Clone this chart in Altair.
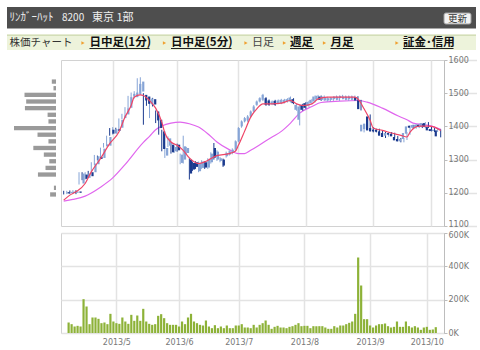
import altair as alt
import pandas as pd

# ---------------- data ----------------
opens = [1202,1199,1203,1200,1204,1228,1255,1245,1262,1262,1286,1308,1305,1340,1342,1390,1378,1392,1396,1425,
         1436,1456,1490,1488,1496,1505,1495,1490,1466,1482,1445,1420,1385,1312,1342,1345,1325,1345,1290,1300,
         1320,1300,1290,1292,1265,1275,1292,1276,1292,1335,1300,1296,1300,1310,1315,1320,1330,1355,1400,1415,
         1418,1430,1445,1465,1475,1480,1485,1478,1467,1477,1470,1470,1472,1475,1475,1482,1450,1420,1465,1470,
         1462,1470,1475,1482,1490,1480,1478,1478,1480,1482,1480,1485,1482,1480,1482,1480,1488,1478,1385,1392,
         1430,1395,1390,1390,1385,1380,1372,1380,1378,1368,1362,1355,1362,1378,1402,1396,1398,1405,1398,1410,
         1398,1392,1386,1388]
closes = [1198,1203,1200,1204,1200,1258,1242,1258,1250,1288,1310,1302,1333,1346,1368,1378,1392,1386,1420,1433,
          1454,1488,1498,1502,1528,1535,1478,1468,1484,1466,1418,1395,1332,1335,1364,1322,1338,1328,1315,1340,
          1335,1258,1270,1278,1290,1294,1276,1300,1318,1306,1324,1304,1282,1320,1325,1330,1355,1395,1415,1425,
          1430,1445,1460,1475,1485,1495,1465,1465,1475,1465,1478,1480,1480,1482,1487,1470,1465,1460,1450,1456,
          1474,1480,1490,1492,1480,1490,1486,1485,1487,1490,1490,1492,1490,1490,1490,1490,1478,1452,1405,1408,
          1388,1385,1385,1384,1372,1368,1380,1375,1370,1358,1355,1362,1380,1400,1396,1404,1405,1398,1410,1398,
          1388,1386,1390,1370]
highs = [1206,1206,1207,1208,1208,1262,1262,1262,1266,1292,1314,1312,1336,1350,1372,1395,1398,1396,1424,1438,
         1458,1492,1502,1506,1545,1548,1500,1494,1488,1486,1448,1425,1390,1340,1370,1350,1342,1348,1318,1372,
         1338,1304,1294,1295,1294,1298,1295,1304,1322,1350,1328,1308,1303,1324,1328,1334,1358,1398,1418,1428,
         1434,1448,1464,1478,1488,1498,1488,1481,1478,1480,1481,1483,1483,1485,1490,1485,1468,1466,1468,1473,
         1477,1483,1493,1495,1493,1493,1489,1488,1490,1493,1493,1495,1493,1493,1493,1493,1491,1480,1408,1412,
         1436,1398,1393,1393,1388,1383,1383,1383,1381,1371,1365,1365,1383,1403,1405,1407,1408,1408,1413,1413,
         1401,1395,1393,1391]
lows = [1195,1196,1197,1198,1196,1225,1238,1240,1246,1260,1284,1298,1302,1336,1340,1372,1375,1380,1392,1422,
        1432,1452,1486,1484,1494,1500,1405,1462,1425,1460,1410,1375,1325,1305,1338,1318,1320,1324,1286,1288,
        1316,1240,1266,1272,1262,1272,1272,1272,1288,1300,1296,1292,1278,1306,1312,1316,1326,1352,1396,1412,
        1414,1426,1442,1462,1472,1476,1462,1462,1464,1462,1467,1467,1469,1472,1472,1467,1447,1403,1447,1453,
        1459,1467,1472,1479,1477,1477,1475,1475,1477,1479,1477,1482,1479,1477,1479,1477,1475,1448,1382,1388,
        1385,1382,1382,1381,1369,1365,1369,1372,1367,1355,1352,1352,1359,1375,1393,1393,1395,1395,1395,1395,
        1385,1383,1383,1367]
volumes_k = [63,53,39,43,39,203,159,53,93,93,85,59,63,53,115,69,59,55,93,69,
             55,109,73,105,73,145,69,55,49,53,103,113,89,59,49,49,49,39,69,53,
             93,115,69,59,49,45,75,39,29,47,29,39,29,45,29,29,45,45,53,33,
             33,29,49,33,49,59,75,49,25,37,43,33,33,29,37,41,49,59,41,43,
             43,29,41,41,41,41,33,25,25,41,33,45,45,53,61,69,115,453,285,83,
             83,45,33,45,53,53,57,41,33,37,69,37,37,69,41,33,41,33,19,33,
             37,19,21,35]

ma_short_idx = [0,2,4,7,9,12,15,18,20,22,23,25,26,28,30,32,33,35,37,39,41,44,46,48,50,54,56,57,59,61,
                63,65,68,71,74,76,78,81,83,86,90,95,96,98,100,101,104,107,110,112,113,116,119,121,123]
ma_short_val = [1178,1193,1203,1228,1263,1303,1348,1383,1428,1463,1488,1495,1493,1478,1455,1413,1380,1353,1343,1328,
                1305,1288,1293,1303,1312,1318,1325,1343,1385,1428,1453,1468,1468,1470,1478,1468,1463,1468,1483,1488,
                1488,1488,1483,1453,1418,1395,1388,1380,1373,1368,1383,1401,1401,1398,1388]
ma_long_idx = [0,3,7,12,16,20,26,28,30,32,35,38,41,44,47,50,54,57,59,61,64,68,71,74,77,81,84,90,96,99,
               104,109,112,114,119,121,123]
ma_long_val = [1175,1180,1190,1217,1245,1285,1352,1370,1390,1401,1410,1413,1408,1398,1378,1353,1330,1318,1318,1328,
               1345,1368,1385,1410,1440,1460,1472,1476,1478,1473,1455,1432,1420,1410,1403,1398,1391]

profile_price = [1535,1515,1495,1475,1455,1435,1415,1395,1375,1355,1335,1315,1295,1275,1255,1235,1215,1195]
profile_value = [10,6,75,71,74,20,18,100,44,18,54,29,16,25,43,0,5,14]

month_tick_idx = [16, 37, 57, 79, 101, 120]
month_tick_label = ["2013/5", "2013/6", "2013/7", "2013/8", "2013/9", "2013/10"]
price_ticks = [1100, 1200, 1300, 1400, 1500, 1600]
volume_ticks_k = [0, 200, 400, 600]

# ---------------- tables ----------------
df = pd.DataFrame({"i": list(range(len(closes))), "o": opens, "c": closes, "h": highs, "l": lows,
                   "v": [v * 1000 for v in volumes_k]})
df["dir"] = ["up" if c >= o else "down" for o, c in zip(opens, closes)]
ma_s = pd.DataFrame({"i": ma_short_idx, "v": ma_short_val})
ma_l = pd.DataFrame({"i": ma_long_idx, "v": ma_long_val})
prof = pd.DataFrame({"p": profile_price, "pv": profile_value})
one = pd.DataFrame({"k": [0]})

JP = "Noto Sans CJK JP"
AX = "DejaVu Sans"
X_DOMAIN = [-0.88, 124.08]
xs = alt.Scale(domain=X_DOMAIN, nice=False, zero=False)
ys = alt.Scale(domain=[1100, 1600], nice=False, zero=False)
col = alt.Color("dir:N", scale=alt.Scale(domain=["up", "down"], range=["#86a4d6", "#1b3a8e"]), legend=None)

label_expr = "''"
for v, lab in reversed(list(zip(month_tick_idx, month_tick_label))):
    label_expr = f"datum.value == {v} ? '{lab}' : ({label_expr})"

grid_axis = alt.Axis(values=month_tick_idx, grid=True, labels=False, ticks=False, domain=False, title=None)
price_axis = alt.Axis(orient="right", values=price_ticks, format="d", title=None, labelFlush=False,
                      labelOverlap=False, grid=True, tickSize=3, labelPadding=1,
                      labelOffset={"expr": "datum.value == 1100 ? -2 : 0"})

# ---------------- price panel ----------------
profile = alt.Chart(prof).transform_calculate(lo="datum.p - 6.5", hi="datum.p + 6.5").mark_rect(color="#9a9a9a").encode(
    x=alt.X("pv:Q", scale=alt.Scale(domain=[0, 100], range=[-5, -47]), axis=None),
    x2=alt.datum(0),
    y=alt.Y("lo:Q", scale=ys, axis=price_axis),
    y2="hi:Q",
)
long_line = alt.Chart(ma_l).mark_line(color="#e066ee", strokeWidth=1.2, interpolate="monotone").encode(
    x=alt.X("i:Q", scale=xs, axis=None), y=alt.Y("v:Q", scale=ys, axis=price_axis))
wick = alt.Chart(df).mark_rule(strokeWidth=1).encode(
    x=alt.X("i:Q", scale=xs, axis=grid_axis),
    y=alt.Y("l:Q", scale=ys, axis=price_axis),
    y2="h:Q", color=col)
body = alt.Chart(df).mark_bar(size=2.2).encode(
    x=alt.X("i:Q", scale=xs, axis=None),
    y=alt.Y("o:Q", scale=ys, axis=price_axis),
    y2="c:Q", color=col)
short_line = alt.Chart(ma_s).mark_line(color="#ee4466", strokeWidth=1.2, interpolate="monotone").encode(
    x=alt.X("i:Q", scale=xs, axis=None), y=alt.Y("v:Q", scale=ys, axis=price_axis))


def rect(x1, y1, x2, y2, fill, stroke=None, radius=0):
    kw = dict(fill=fill, cornerRadius=radius)
    if stroke:
        kw.update(stroke=stroke, strokeWidth=1)
    return alt.Chart(one).mark_rect(**kw).encode(
        x=alt.value(x1), x2=alt.value(x2), y=alt.value(y1), y2=alt.value(y2))


def text(x, y, s, size=11, color="#222", weight="normal", align="left", font=JP):
    return alt.Chart(one).mark_text(align=align, baseline="middle", font=font, fontSize=size,
                                    fontWeight=weight, color=color).encode(
        x=alt.value(x), y=alt.value(y), text=alt.value(s))


def tri(x, y):
    return alt.Chart(one).mark_point(shape="triangle-right", filled=True, size=14, color="#f0a030", opacity=1).encode(
        x=alt.value(x), y=alt.value(y))


def uline(x1, x2, y):
    return alt.Chart(one).mark_rule(color="#222", strokeWidth=1).encode(
        x=alt.value(x1), x2=alt.value(x2), y=alt.value(y))


deco = [
    rect(-54, -53, 415, -31.5, "#4e4e4e"),
    text(-51.5, -42, "ﾘﾝｶﾞｰﾊｯﾄ", size=11, color="#eeeeee"),
    text(1, -42, "8200", size=10, color="#eeeeee"),
    text(31, -42, "東京 1部", size=11, color="#eeeeee"),
    rect(383, -47, 410, -36, "#f3f3f3", stroke="#a0a0a0", radius=2),
    text(396.5, -41.5, "更新", size=9.5, color="#333", align="center"),
    rect(-54, -25.5, 415, -10, "#edf3db"),
    rect(-54, -25.5, 415, -24, "#d3deb8"),
    text(-51.5, -17, "株価チャート", size=10.5, color="#333"),
    tri(22, -17), text(28.5, -17, "日中足(1分)", size=11.5, weight="bold", color="#111"), uline(28.5, 88.5, -11.5),
    tri(103.5, -17), text(110, -17, "日中足(5分)", size=11.5, weight="bold", color="#111"), uline(110, 170.5, -11.5),
    tri(185, -17), text(191, -17, "日足", size=11, color="#444"),
    tri(223.5, -17), text(229, -17, "週足", size=11.5, weight="bold", color="#111"), uline(229, 253, -11.5),
    tri(263.5, -17), text(269.5, -17, "月足", size=11.5, weight="bold", color="#111"), uline(269.5, 293, -11.5),
    tri(336, -17), text(342, -17, "証金･信用", size=11.5, weight="bold", color="#111"), uline(342, 392.5, -11.5),
]

price = alt.layer(profile, long_line, wick, body, short_line, *deco).resolve_scale(x="independent").properties(
    width=383, height=166)

# ---------------- volume panel ----------------
vol = alt.Chart(df).mark_bar(size=2.2, color="#8db238").encode(
    x=alt.X("i:Q", scale=xs, axis=alt.Axis(values=month_tick_idx, labelExpr=label_expr, grid=True, ticks=False,
                                            domain=False, title=None, labelPadding=5, labelFlush=False,
                                            labelOverlap=False)),
    y=alt.Y("v:Q", scale=alt.Scale(domain=[0, 600000], nice=False),
            axis=alt.Axis(orient="right", values=[t * 1000 for t in volume_ticks_k],
                          labelExpr="datum.value / 1000 + 'K'", title=None, labelFlush=False,
                          labelOverlap=False, tickSize=3, labelPadding=1,
                          labelOffset={"expr": "datum.value == 600000 ? 2 : 0"})),
).properties(width=383, height=100)

chart = alt.vconcat(price, vol, spacing=7, bounds="flush").resolve_scale(
    x="independent", y="independent").properties(
    padding={"left": 6, "top": 6, "right": 0, "bottom": 0}, background="white"
).configure_view(stroke="#d2d2d2", strokeWidth=1).configure_axis(
    labelFont=AX, labelFontSize=8, labelColor="#777", gridColor="#e3e3e3", gridWidth=1.5,
    domainColor="#bdbdbd", tickColor="#bdbdbd")

chart.save("out.html", embed_options={"renderer": "svg", "actions": False})
